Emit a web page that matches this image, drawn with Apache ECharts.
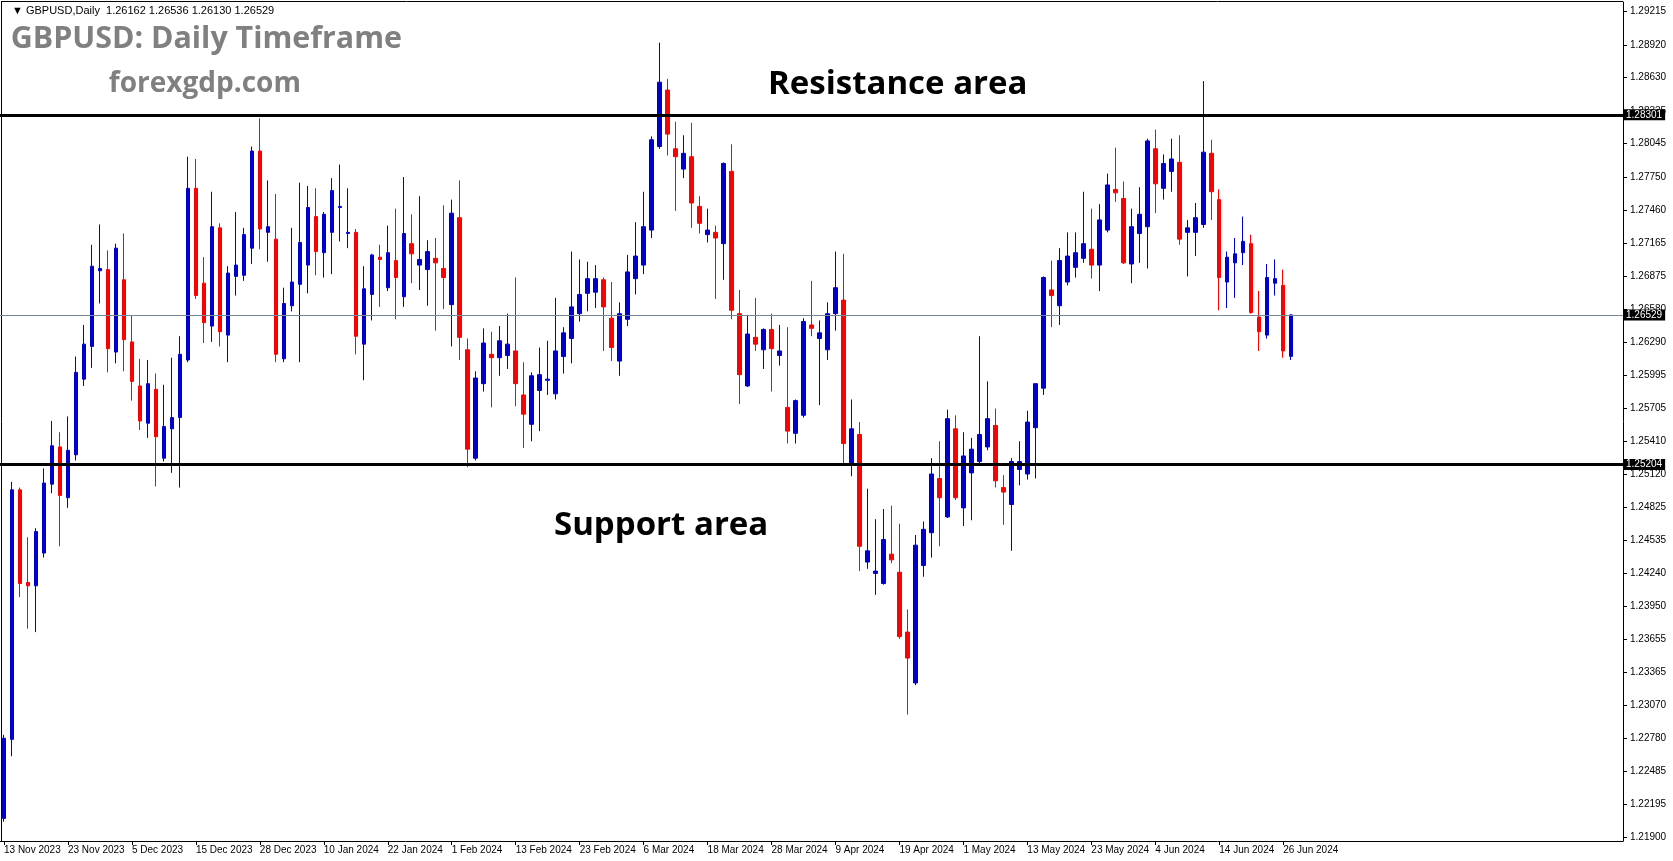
<!DOCTYPE html>
<html>
<head>
<meta charset="utf-8">
<script src="https://cdn.jsdelivr.net/npm/echarts@6/dist/echarts.min.js"></script>
<style>
  html, body { margin: 0; padding: 0; background: #fff; }
  #chart { width: 1673px; height: 861px; }
</style>
</head>
<body>
<div id="chart"></div>
<script>
// Trading days shown on the chart (one daily bar each)
const dates = [
  '13 Nov 2023','14 Nov 2023','15 Nov 2023','16 Nov 2023','17 Nov 2023','20 Nov 2023','21 Nov 2023','22 Nov 2023','23 Nov 2023','24 Nov 2023','27 Nov 2023','28 Nov 2023','29 Nov 2023','30 Nov 2023',
  '1 Dec 2023','4 Dec 2023','5 Dec 2023','6 Dec 2023','7 Dec 2023','8 Dec 2023','11 Dec 2023','12 Dec 2023','13 Dec 2023','14 Dec 2023','15 Dec 2023','18 Dec 2023','19 Dec 2023','20 Dec 2023','21 Dec 2023','22 Dec 2023','26 Dec 2023','27 Dec 2023','28 Dec 2023','29 Dec 2023',
  '2 Jan 2024','3 Jan 2024','4 Jan 2024','5 Jan 2024','8 Jan 2024','9 Jan 2024','10 Jan 2024','11 Jan 2024','12 Jan 2024','15 Jan 2024','16 Jan 2024','17 Jan 2024','18 Jan 2024','19 Jan 2024','22 Jan 2024','23 Jan 2024','24 Jan 2024','25 Jan 2024','26 Jan 2024','29 Jan 2024','30 Jan 2024','31 Jan 2024',
  '1 Feb 2024','2 Feb 2024','5 Feb 2024','6 Feb 2024','7 Feb 2024','8 Feb 2024','9 Feb 2024','12 Feb 2024','13 Feb 2024','14 Feb 2024','15 Feb 2024','16 Feb 2024','19 Feb 2024','20 Feb 2024','21 Feb 2024','22 Feb 2024','23 Feb 2024','26 Feb 2024','27 Feb 2024','28 Feb 2024','29 Feb 2024',
  '1 Mar 2024','4 Mar 2024','5 Mar 2024','6 Mar 2024','7 Mar 2024','8 Mar 2024','11 Mar 2024','12 Mar 2024','13 Mar 2024','14 Mar 2024','15 Mar 2024','18 Mar 2024','19 Mar 2024','20 Mar 2024','21 Mar 2024','22 Mar 2024','25 Mar 2024','26 Mar 2024','27 Mar 2024','28 Mar 2024','29 Mar 2024',
  '1 Apr 2024','2 Apr 2024','3 Apr 2024','4 Apr 2024','5 Apr 2024','8 Apr 2024','9 Apr 2024','10 Apr 2024','11 Apr 2024','12 Apr 2024','15 Apr 2024','16 Apr 2024','17 Apr 2024','18 Apr 2024','19 Apr 2024','22 Apr 2024','23 Apr 2024','24 Apr 2024','25 Apr 2024','26 Apr 2024','29 Apr 2024','30 Apr 2024',
  '1 May 2024','2 May 2024','3 May 2024','6 May 2024','7 May 2024','8 May 2024','9 May 2024','10 May 2024','13 May 2024','14 May 2024','15 May 2024','16 May 2024','17 May 2024','20 May 2024','21 May 2024','22 May 2024','23 May 2024','24 May 2024','27 May 2024','28 May 2024','29 May 2024','30 May 2024','31 May 2024',
  '3 Jun 2024','4 Jun 2024','5 Jun 2024','6 Jun 2024','7 Jun 2024','10 Jun 2024','11 Jun 2024','12 Jun 2024','13 Jun 2024','14 Jun 2024','17 Jun 2024','18 Jun 2024','19 Jun 2024','20 Jun 2024','21 Jun 2024','24 Jun 2024','25 Jun 2024','26 Jun 2024','27 Jun 2024'
];

// GBPUSD daily OHLC
const open = [
  1.2207,1.2277,1.2498,1.2416,1.2413,1.2442,1.2503,1.2536,1.2491,1.2529,1.2596,1.2625,1.2692,1.2693,1.2620,1.2684,1.2629,1.2590,1.2557,1.2587,
  1.2526,1.2552,1.2562,1.2613,1.2765,1.2681,1.2643,1.2730,1.2635,1.2687,1.2688,1.2712,1.2798,1.2726,1.2720,1.2614,1.2661,1.2680,1.2697,1.2740,
  1.2708,1.2726,1.2748,1.2725,1.2726,1.2627,1.2671,1.2704,1.2677,1.2701,1.2669,1.2716,1.2697,1.2693,1.2703,1.2694,1.2662,1.2739,1.2622,1.2526,
  1.2592,1.2618,1.2615,1.2617,1.2621,1.2582,1.2556,1.2586,1.2595,1.2583,1.2616,1.2632,1.2654,1.2672,1.2673,1.2684,1.2650,1.2612,1.2649,1.2685,
  1.2697,1.2728,1.2802,1.2852,1.2800,1.2782,1.2793,1.2749,1.2724,1.2726,1.2716,1.2780,1.2654,1.2590,1.2633,1.2622,1.2640,1.2617,1.2571,1.2548,
  1.2564,1.2644,1.2632,1.2622,1.2654,1.2666,1.2521,1.2547,1.2434,1.2424,1.2415,1.2441,1.2425,1.2372,1.2327,1.2431,1.2460,1.2508,1.2474,1.2552,
  1.2482,1.2513,1.2523,1.2536,1.2555,1.2500,1.2485,1.2516,1.2512,1.2553,1.2588,1.2675,1.2661,1.2682,1.2695,1.2703,1.2711,1.2697,1.2728,1.2764,
  1.2756,1.2698,1.2725,1.2731,1.2800,1.2765,1.2780,1.2788,1.2726,1.2726,1.2733,1.2796,1.2755,1.2682,1.2699,1.2708,1.2716,1.2651,1.2635,1.2681,
  1.2679,1.26162
];
const high = [
  1.2281,1.2505,1.2500,1.2456,1.2464,1.2517,1.2559,1.2549,1.2563,1.2616,1.2644,1.2715,1.2733,1.2710,1.2716,1.2725,1.2652,1.2614,1.2613,1.2601,
  1.2591,1.2615,1.2634,1.2793,1.2791,1.2704,1.2762,1.2734,1.2696,1.2744,1.2730,1.2802,1.2827,1.2772,1.2760,1.2677,1.2730,1.2770,1.2767,1.2765,
  1.2744,1.2774,1.2786,1.2765,1.2729,1.2696,1.2707,1.2715,1.2732,1.2747,1.2775,1.2742,1.2758,1.2719,1.2721,1.2750,1.2755,1.2772,1.2632,1.2603,
  1.2641,1.2638,1.2643,1.2654,1.2686,1.2611,1.2602,1.2624,1.2630,1.2668,1.2642,1.2709,1.2702,1.2700,1.2697,1.2686,1.2682,1.2664,1.2706,1.2735,
  1.2762,1.2811,1.2894,1.2862,1.2824,1.2812,1.2823,1.2758,1.2747,1.2732,1.2788,1.2804,1.2675,1.2653,1.2668,1.2641,1.2654,1.2644,1.2642,1.2578,
  1.2650,1.2683,1.2648,1.2664,1.2709,1.2707,1.2578,1.2558,1.2499,1.2472,1.2481,1.2484,1.2468,1.2392,1.2458,1.2470,1.2526,1.2541,1.2569,1.2564,
  1.2549,1.2544,1.2634,1.2594,1.2570,1.2511,1.2526,1.2541,1.2568,1.2592,1.2687,1.2701,1.2712,1.2726,1.2726,1.2762,1.2747,1.2751,1.2778,1.2801,
  1.2771,1.2747,1.2766,1.2809,1.2817,1.2795,1.2809,1.2812,1.2737,1.2752,1.2860,1.2808,1.2764,1.2709,1.2721,1.2740,1.2724,1.2674,1.2698,1.2702,
  1.2693,1.26536
];
const low = [
  1.2204,1.2262,1.2403,1.2375,1.2372,1.2438,1.2495,1.2448,1.2482,1.2524,1.2590,1.2606,1.2663,1.2602,1.2610,1.2603,1.2577,1.2551,1.2544,1.2501,
  1.2523,1.2513,1.2500,1.2611,1.2667,1.2628,1.2629,1.2625,1.2611,1.2670,1.2683,1.2698,1.2711,1.2700,1.2611,1.2611,1.2656,1.2611,1.2672,1.2688,
  1.2686,1.2689,1.2718,1.2712,1.2618,1.2595,1.2648,1.2660,1.2674,1.2649,1.2660,1.2681,1.2675,1.2661,1.2639,1.2658,1.2625,1.2613,1.2518,1.2524,
  1.2585,1.2571,1.2599,1.2605,1.2572,1.2535,1.2541,1.2550,1.2582,1.2578,1.2601,1.2610,1.2647,1.2656,1.2659,1.2621,1.2612,1.2599,1.2643,1.2671,
  1.2689,1.2721,1.2800,1.2794,1.2745,1.2774,1.2730,1.2725,1.2717,1.2667,1.2684,1.2649,1.2574,1.2589,1.2621,1.2605,1.2585,1.2608,1.2539,1.2539,
  1.2562,1.2634,1.2573,1.2613,1.2639,1.2520,1.2510,1.2426,1.2428,1.2405,1.2414,1.2433,1.2366,1.2299,1.2325,1.2421,1.2438,1.2448,1.2473,1.2489,
  1.2466,1.2471,1.2520,1.2533,1.2500,1.2467,1.2444,1.2502,1.2507,1.2508,1.2582,1.2642,1.2644,1.2679,1.2686,1.2699,1.2685,1.2674,1.2726,1.2753,
  1.2698,1.2681,1.2699,1.2694,1.2743,1.2755,1.2762,1.2715,1.2687,1.2705,1.2730,1.2737,1.2657,1.2659,1.2668,1.2697,1.2654,1.2621,1.2632,1.2670,
  1.2615,1.26130
];
const close = [
  1.2278,1.2498,1.2415,1.2413,1.2461,1.2504,1.2537,1.2493,1.2533,1.2602,1.2627,1.2696,1.2694,1.2623,1.2712,1.2631,1.2594,1.2559,1.2592,1.2545,
  1.2554,1.2562,1.2618,1.2765,1.2670,1.2646,1.2731,1.2638,1.2690,1.2697,1.2724,1.2798,1.2729,1.2731,1.2618,1.2663,1.2682,1.2717,1.2748,1.2709,
  1.2742,1.2763,1.2749,1.2726,1.2634,1.2676,1.2706,1.2702,1.2708,1.2686,1.2725,1.2707,1.2702,1.2709,1.2699,1.2686,1.2743,1.2633,1.2534,1.2597,
  1.2628,1.2615,1.2630,1.2627,1.2592,1.2565,1.2599,1.2600,1.2596,1.2621,1.2637,1.2660,1.2671,1.2685,1.2685,1.2660,1.2624,1.2654,1.2691,1.2705,
  1.2731,1.2808,1.2859,1.2813,1.2793,1.2796,1.2752,1.2734,1.2728,1.2721,1.2787,1.2657,1.2600,1.2636,1.2627,1.2640,1.2623,1.2621,1.2550,1.2577,
  1.2647,1.2641,1.2637,1.2654,1.2677,1.2539,1.2552,1.2448,1.2444,1.2426,1.2454,1.2436,1.2368,1.2349,1.2449,1.2463,1.2512,1.2491,1.2561,1.2491,
  1.2528,1.2534,1.2547,1.2561,1.2506,1.2496,1.2523,1.2523,1.2558,1.2592,1.2686,1.2670,1.2701,1.2705,1.2708,1.2716,1.2697,1.2737,1.2768,1.2761,
  1.2699,1.2731,1.2742,1.2807,1.2769,1.2787,1.2791,1.2720,1.2730,1.2739,1.2797,1.2762,1.2686,1.2704,1.2707,1.2718,1.2655,1.2638,1.2686,1.2685,
  1.2621,1.26529
];

// Right-hand price scale labels
const priceTicks = [
  1.29215,1.28920,1.28630,1.28335,1.28045,1.27750,1.27460,1.27165,1.26875,1.26580,1.26290,1.25995,1.25705,
  1.25410,1.25120,1.24825,1.24535,1.24240,1.23950,1.23655,1.23365,1.23070,1.22780,1.22485,1.22195,1.21900
];

// Horizontal levels
const resistanceLevel = 1.28301;
const supportLevel = 1.25204;

const symbolName = 'GBPUSD';
const periodName = 'Daily';
const titleText = 'GBPUSD: Daily Timeframe';
const siteText = 'forexgdp.com';
const resistanceText = 'Resistance area';
const supportText = 'Support area';

const last = dates.length - 1;
const lastPrice = close[last];
const headerText = '\u25BC ' + symbolName + ',' + periodName + '  ' +
  [open[last], high[last], low[last], close[last]].map(v => v.toFixed(5)).join(' ');

// candlestick rows: [open, close, low, high]
const candles = dates.map((_, i) => [open[i], close[i], low[i], high[i]]);

// 8px per bar; empty slots keep room on the right like a terminal chart
const slotCount = 203;
const slots = dates.concat(new Array(slotCount - dates.length).fill(''));
const showDate = (index, value) => index % 8 === 0 && value !== '';

const BULL = '#0000CD';
const BEAR = '#FF0000';
const AXIS_FONT = 'Liberation Sans';

const chart = echarts.init(document.getElementById('chart'), null, { renderer: 'canvas' });

const levelLabel = {
  show: true,
  position: 'end',
  distance: 0,
  formatter: p => Number(p.value).toFixed(5),
  backgroundColor: '#000',
  color: '#fff',
  fontFamily: AXIS_FONT,
  fontSize: 10,
  padding: [1, 3, 0, 3]
};

chart.setOption({
  animation: false,
  backgroundColor: '#fff',
  grid: { left: -1, top: 2, width: 1624, height: 839, containLabel: false },
  xAxis: {
    type: 'category',
    data: slots,
    boundaryGap: true,
    axisLine: { show: true, lineStyle: { color: '#000', width: 1 } },
    axisTick: { show: true, alignWithLabel: true, interval: showDate, length: 4, lineStyle: { color: '#000' } },
    axisLabel: {
      interval: showDate, align: 'left', margin: 4, color: '#000',
      fontFamily: AXIS_FONT, fontSize: 10
    },
    splitLine: { show: false }
  },
  yAxis: {
    type: 'value',
    position: 'right',
    min: 1.2187,
    max: 1.2930,
    axisLine: { show: true, lineStyle: { color: '#000', width: 1 } },
    axisTick: { show: true, customValues: priceTicks, length: 4, lineStyle: { color: '#000' } },
    axisLabel: {
      customValues: priceTicks,
      formatter: v => v.toFixed(5),
      margin: 7, color: '#000', fontFamily: AXIS_FONT, fontSize: 10
    },
    splitLine: { show: false }
  },
  series: [{
    type: 'candlestick',
    data: candles,
    barWidth: 4,
    itemStyle: {
      color: BULL, color0: BEAR,
      borderColor: BULL, borderColor0: BEAR,
      borderWidth: 1
    },
    markLine: {
      silent: true,
      symbol: 'none',
      precision: 5,
      animation: false,
      data: [
        { yAxis: lastPrice, lineStyle: { color: '#778899', width: 1, type: 'solid' }, label: levelLabel },
        { yAxis: resistanceLevel, lineStyle: { color: '#000', width: 3, type: 'solid' }, label: levelLabel },
        { yAxis: supportLevel, lineStyle: { color: '#000', width: 3, type: 'solid' }, label: levelLabel }
      ]
    }
  }],
  graphic: [
    { type: 'line', silent: true, shape: { x1: 1.5, y1: 2, x2: 1.5, y2: 841 }, style: { stroke: '#000', lineWidth: 1 } },
    { type: 'line', silent: true, shape: { x1: 1, y1: 1.5, x2: 1623, y2: 1.5 }, style: { stroke: '#000', lineWidth: 1 } },
    { type: 'text', silent: true, x: 12, y: 10.6,
      style: { text: headerText, fill: '#000', font: '11px "Liberation Sans"', verticalAlign: 'middle' } },
    { type: 'text', silent: true, x: 10.7, y: 39.6,
      style: { text: titleText, fill: '#808080', font: 'bold 30.4px "Open Sans"', verticalAlign: 'middle' } },
    { type: 'text', silent: true, x: 108.8, y: 84.5,
      style: { text: siteText, fill: '#808080', font: 'bold 28px "Open Sans"', verticalAlign: 'middle' } },
    { type: 'text', silent: true, x: 768, y: 84.8,
      style: { text: resistanceText, fill: '#000', font: 'bold 33px "Open Sans"', verticalAlign: 'middle' } },
    { type: 'text', silent: true, x: 554, y: 525.4,
      style: { text: supportText, fill: '#000', font: 'bold 33px "Open Sans"', verticalAlign: 'middle' } }
  ]
});
</script>
</body>
</html>
